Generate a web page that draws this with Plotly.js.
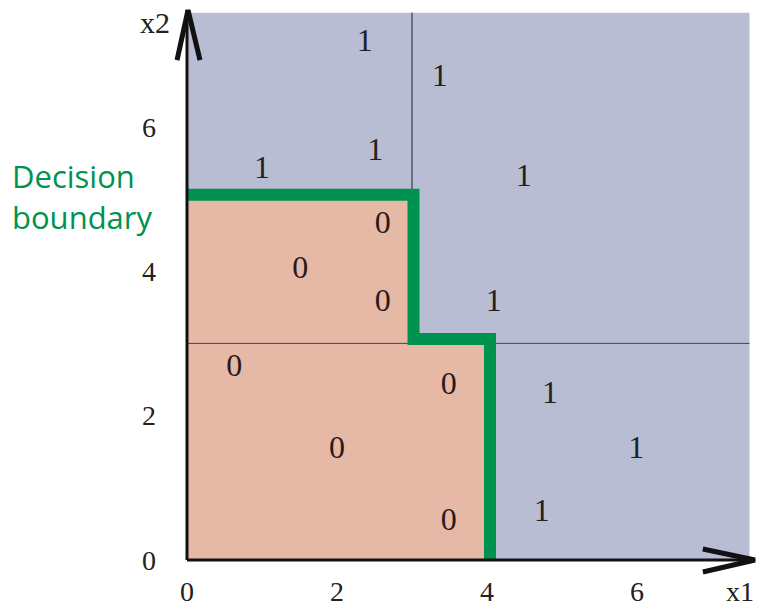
<!DOCTYPE html>
<html>
<head>
<meta charset="utf-8">
<script src="https://cdn.plot.ly/plotly-3.0.1.min.js"></script>
<style>html,body{margin:0;padding:0;background:#fff;}#chart{width:761px;height:609px;}</style>
</head>
<body>
<div id="chart"></div>
<script>
// Decision regions
const class1RegionX = [0, 7.5, 7.5, 0, 0];
const class1RegionY = [0, 0, 7.58, 7.58, 0];
const class0RegionX = [0, 4, 4, 3, 3, 0, 0];
const class0RegionY = [0, 0, 3, 3, 5, 5, 0];
// split lines
const splitHX = [0, 7.5];
const splitHY = [3, 3];
const splitVX = [3, 3];
const splitVY = [3, 7.58];
// decision boundary
const boundaryX = [0, 3.02, 3.02, 4.04, 4.04];
const boundaryY = [5.06, 5.06, 3.06, 3.06, 0];
// points labelled 1
const ones_x = [2.37, 3.37, 2.51, 1.0, 4.49, 4.09, 4.84, 5.99, 4.73];
const ones_y = [7.16, 6.68, 5.65, 5.40, 5.29, 3.56, 2.29, 1.52, 0.65];
// points labelled 0
const zeros_x = [2.61, 1.51, 2.61, 0.63, 3.49, 2.0, 3.49];
const zeros_y = [4.64, 4.02, 3.56, 2.66, 2.41, 1.52, 0.53];
const tickVals = [0, 2, 4, 6];
const tickText = ['0', '2', '4', '6'];

const serif = 'Liberation Serif, Times New Roman, serif';
const green = '#00924f';

const traces = [
  {x: class1RegionX, y: class1RegionY, mode: 'lines', fill: 'toself', fillcolor: '#b8bdd4', line: {width: 0}, hoverinfo: 'skip'},
  {x: class0RegionX, y: class0RegionY, mode: 'lines', fill: 'toself', fillcolor: '#e6b9a7', line: {width: 0}, hoverinfo: 'skip'},
  {x: splitHX, y: splitHY, mode: 'lines', line: {color: '#444', width: 1}, hoverinfo: 'skip'},
  {x: splitVX, y: splitVY, mode: 'lines', line: {color: '#222', width: 1}, hoverinfo: 'skip'},
  {x: boundaryX, y: boundaryY, mode: 'lines', line: {color: green, width: 12}, hoverinfo: 'skip'},
  {x: ones_x, y: ones_y, mode: 'text', text: ones_x.map(() => '1'), textfont: {family: serif, size: 32, color: '#222'}},
  {x: zeros_x, y: zeros_y, mode: 'text', text: zeros_x.map(() => '0'), textfont: {family: serif, size: 32, color: '#2a1a1a'}}
];

const layout = {
  width: 761, height: 609,
  margin: {l: 187, r: 4, t: 4, b: 49},
  paper_bgcolor: '#fff', plot_bgcolor: 'rgba(0,0,0,0)',
  showlegend: false,
  xaxis: {range: [0, 7.6], tickvals: tickVals, ticktext: tickText, showgrid: false, zeroline: false,
          showline: false, ticks: '', ticklabelstandoff: 12, tickfont: {family: serif, size: 28, color: '#222'}, fixedrange: true},
  yaxis: {range: [0, 7.7], tickvals: tickVals, ticktext: tickText, showgrid: false, zeroline: false,
          showline: false, ticks: '', ticklabelstandoff: 30, tickfont: {family: serif, size: 28, color: '#222'}, fixedrange: true},
  shapes: [
    {type: 'line', xref: 'paper', yref: 'paper', x0: 0, y0: 0, x1: 0.9965, y1: 0, line: {color: '#111', width: 3}},
    {type: 'line', xref: 'paper', yref: 'paper', x0: 0, y0: 0, x1: 0, y1: 0.989, line: {color: '#111', width: 3}},
    {type: 'path', xref: 'paper', yref: 'paper', path: 'M 0.905,0.0198 L 0.9965,0 L 0.905,-0.0216', line: {color: '#111', width: 5}},
    {type: 'path', xref: 'paper', yref: 'paper', path: 'M -0.0175,0.899 L 0.0018,0.989 L 0.0228,0.899', line: {color: '#111', width: 5}}
  ],
  annotations: [
    {text: 'x1', xref: 'paper', yref: 'paper', x: 0.998, y: -0.0558, xanchor: 'right', yanchor: 'middle', showarrow: false,
     font: {family: serif, size: 28, color: '#222'}},
    {text: 'x2', xref: 'paper', yref: 'paper', x: -0.056, y: 0.9676, xanchor: 'center', yanchor: 'middle', showarrow: false,
     font: {family: serif, size: 30, color: '#222'}},
    {text: 'Decision', xref: 'paper', yref: 'paper', x: -0.31, y: 0.6906, xanchor: 'left', yanchor: 'middle',
     showarrow: false, font: {family: 'Open Sans, Noto Sans, sans-serif', size: 31, color: green}},
    {text: 'boundary', xref: 'paper', yref: 'paper', x: -0.31, y: 0.6169, xanchor: 'left', yanchor: 'middle',
     showarrow: false, font: {family: 'Open Sans, Noto Sans, sans-serif', size: 31, color: green}}
  ]
};

Plotly.newPlot('chart', traces, layout, {displayModeBar: false, staticPlot: true});
</script>
</body>
</html>
